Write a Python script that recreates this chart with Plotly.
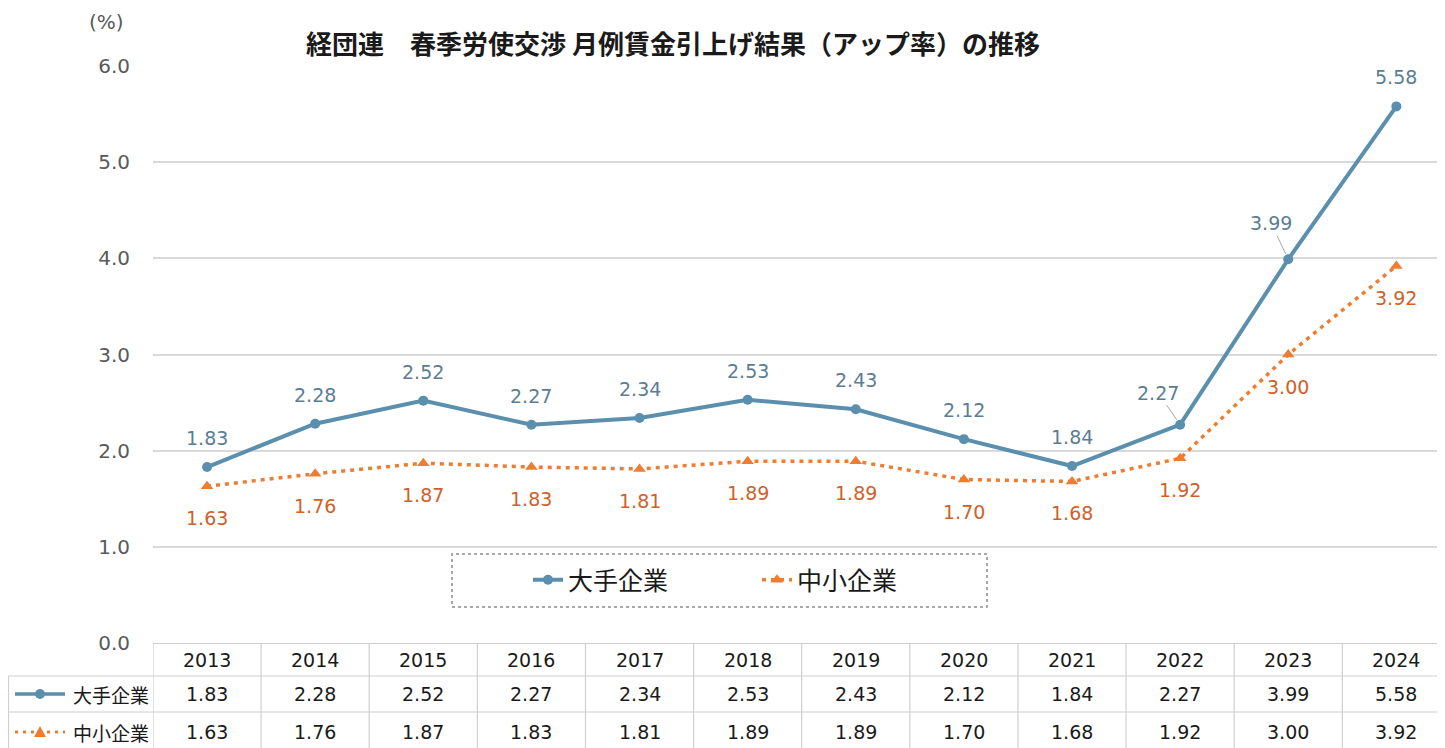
import plotly.graph_objects as go

# ---- data ----
years = ["2013", "2014", "2015", "2016", "2017", "2018", "2019", "2020", "2021", "2022", "2023", "2024"]
large_firms = [1.83, 2.28, 2.52, 2.27, 2.34, 2.53, 2.43, 2.12, 1.84, 2.27, 3.99, 5.58]
small_firms = [1.63, 1.76, 1.87, 1.83, 1.81, 1.89, 1.89, 1.70, 1.68, 1.92, 3.00, 3.92]
series_names = ["大手企業", "中小企業"]
y_ticks = [0, 1, 2, 3, 4, 5, 6]
title_text = "経団連　春季労使交渉 月例賃金引上げ結果（アップ率）の推移"
unit_text = "(%)"

# ---- style ----
OFF = 8  # page body margin offset
W, H = 1445 - OFF, 748 - OFF
L, R, T, B = 153 - OFF, 0, 66 - OFF, 105
PW, PH = W - L - R, H - T - B
BLUE = "#5b8fae"
BLUE_TXT = "#5a7d93"
ORANGE = "#ee7d31"
ORANGE_TXT = "#d0602a"
GRID = "#d9d9d9"
TABLE_LINE = "#cfcfcf"
NUM_FONT = "DejaVu Sans, Verdana, sans-serif"
JP_FONT = "Noto Sans CJK JP, sans-serif"


def px2x(px):  # reference-pixel x -> paper
    return (px - OFF - L) / PW


def py2y(py):  # reference-pixel y -> paper
    return (H - B - (py - OFF)) / PH


fig = go.Figure()
fig.add_trace(go.Scatter(
    x=years, y=large_firms, mode="lines+markers", name=series_names[0],
    line=dict(color=BLUE, width=4),
    marker=dict(symbol="circle", size=10, color=BLUE),
    cliponaxis=False,
))
fig.add_trace(go.Scatter(
    x=years, y=small_firms, mode="lines+markers", name=series_names[1],
    line=dict(color=ORANGE, width=3.5, dash="4px,5px"),
    marker=dict(symbol="triangle-up", size=11, color=ORANGE),
    cliponaxis=False,
))

annotations = []
shapes = []

# data labels (x given as category index)
leader = {9: (-22, -32), 10: (-17, -36)}
for i, v in enumerate(large_firms):
    common = dict(x=i, y=v, xref="x", yref="y", text=f"{v:.2f}",
                  font=dict(family=NUM_FONT, size=19, color=BLUE_TXT))
    if i in leader:
        ax, ay = leader[i]
        annotations.append(dict(**common, showarrow=True, ax=ax, ay=ay, arrowhead=0,
                                arrowwidth=1, arrowcolor="#a6a6a6", standoff=6))
    else:
        annotations.append(dict(**common, showarrow=False, yshift=29,
                                xanchor="center", yanchor="middle"))
for i, v in enumerate(small_firms):
    annotations.append(dict(
        x=i, y=v, xref="x", yref="y", text=f"{v:.2f}",
        showarrow=False, yshift=-32, xanchor="center", yanchor="middle",
        font=dict(family=NUM_FONT, size=19, color=ORANGE_TXT)))

# unit label
annotations.append(dict(
    x=px2x(106), y=py2y(22), xref="paper", yref="paper", text=unit_text,
    xanchor="center", yanchor="middle", showarrow=False,
    font=dict(family=NUM_FONT, size=20, color="#595959")))

# ---- data table ----
row_y = [py2y(660), py2y(694), py2y(732)]
for i, yr in enumerate(years):
    cells = [yr, f"{large_firms[i]:.2f}", f"{small_firms[i]:.2f}"]
    for r, txt in enumerate(cells):
        annotations.append(dict(x=i, y=row_y[r], xref="x", yref="paper", text=txt,
                                xanchor="center", yanchor="middle", showarrow=False,
                                font=dict(family=NUM_FONT, size=19, color="#1a1a1a")))
for k, name in enumerate(series_names):
    annotations.append(dict(x=px2x(151), y=row_y[k + 1], xref="paper", yref="paper", text=name,
                            xanchor="right", yanchor="middle", showarrow=False,
                            font=dict(family=JP_FONT, size=19, color="#1a1a1a")))

bottom = py2y(748)
for i in range(len(years)):
    shapes.append(dict(type="line", xref="x", yref="paper", x0=i - 0.5, x1=i - 0.5,
                       y0=0, y1=bottom, line=dict(color=TABLE_LINE, width=1.2)))
shapes.append(dict(type="line", xref="paper", yref="paper", x0=px2x(8.5), x1=px2x(8.5),
                   y0=py2y(676), y1=bottom, line=dict(color=TABLE_LINE, width=1.2)))
for py in (676, 712):
    shapes.append(dict(type="line", xref="paper", yref="paper", x0=px2x(8), x1=1,
                       y0=py2y(py), y1=py2y(py), line=dict(color=TABLE_LINE, width=1.2)))

# table legend keys
shapes.append(dict(type="line", xref="paper", yref="paper", x0=px2x(15), x1=px2x(65),
                   y0=row_y[1], y1=row_y[1], line=dict(color=BLUE, width=3.5)))
shapes.append(dict(type="circle", xref="paper", yref="paper",
                   x0=px2x(35), x1=px2x(45), y0=row_y[1] - 5 / PH, y1=row_y[1] + 5 / PH,
                   fillcolor=BLUE, line=dict(width=0)))
shapes.append(dict(type="line", xref="paper", yref="paper", x0=px2x(15), x1=px2x(65),
                   y0=row_y[2], y1=row_y[2], line=dict(color=ORANGE, width=3, dash="3px,5px")))
tx, ty = px2x(40), row_y[2]
shapes.append(dict(type="path", xref="paper", yref="paper",
                   path=f"M {tx - 6 / PW},{ty - 5 / PH} L {tx + 6 / PW},{ty - 5 / PH} L {tx},{ty + 6 / PH} Z",
                   fillcolor=ORANGE, line=dict(width=0)))

# legend frame
shapes.append(dict(type="rect", xref="paper", yref="paper", layer="between",
                   x0=px2x(452), x1=px2x(987), y0=py2y(607), y1=py2y(554),
                   fillcolor="white", line=dict(color="#8c8c8c", width=1.5, dash="dot")))

fig.update_layout(
    width=W, height=H,
    margin=dict(l=L, r=R, t=T, b=B),
    paper_bgcolor="white", plot_bgcolor="white",
    title=dict(text=f"<b>{title_text}</b>", x=(673 - OFF) / W, xanchor="center",
               y=1 - (45 - OFF) / H, yanchor="middle",
               font=dict(family=JP_FONT, size=26, color="#1a1a1a")),
    showlegend=True,
    legend=dict(orientation="h", x=px2x(528), xanchor="left", y=py2y(580), yanchor="middle",
                font=dict(family=JP_FONT, size=25, color="#1a1a1a"),
                bgcolor="rgba(0,0,0,0)", entrywidth=184),
    xaxis=dict(type="category", range=[-0.5, 11.45], showgrid=False, showticklabels=False,
               zeroline=False, showline=False, fixedrange=True),
    yaxis=dict(range=[0, 6], tickvals=y_ticks, ticktext=[f"{v:.1f}" for v in y_ticks],
               showgrid=True, gridcolor=GRID, gridwidth=1.5, zeroline=True, zerolinecolor=TABLE_LINE,
               zerolinewidth=1.2, showline=False, ticklabelstandoff=22,
               tickfont=dict(family=NUM_FONT, size=20, color="#595959")),
    annotations=annotations,
    shapes=shapes,
)

fig.write_html("out.html")
